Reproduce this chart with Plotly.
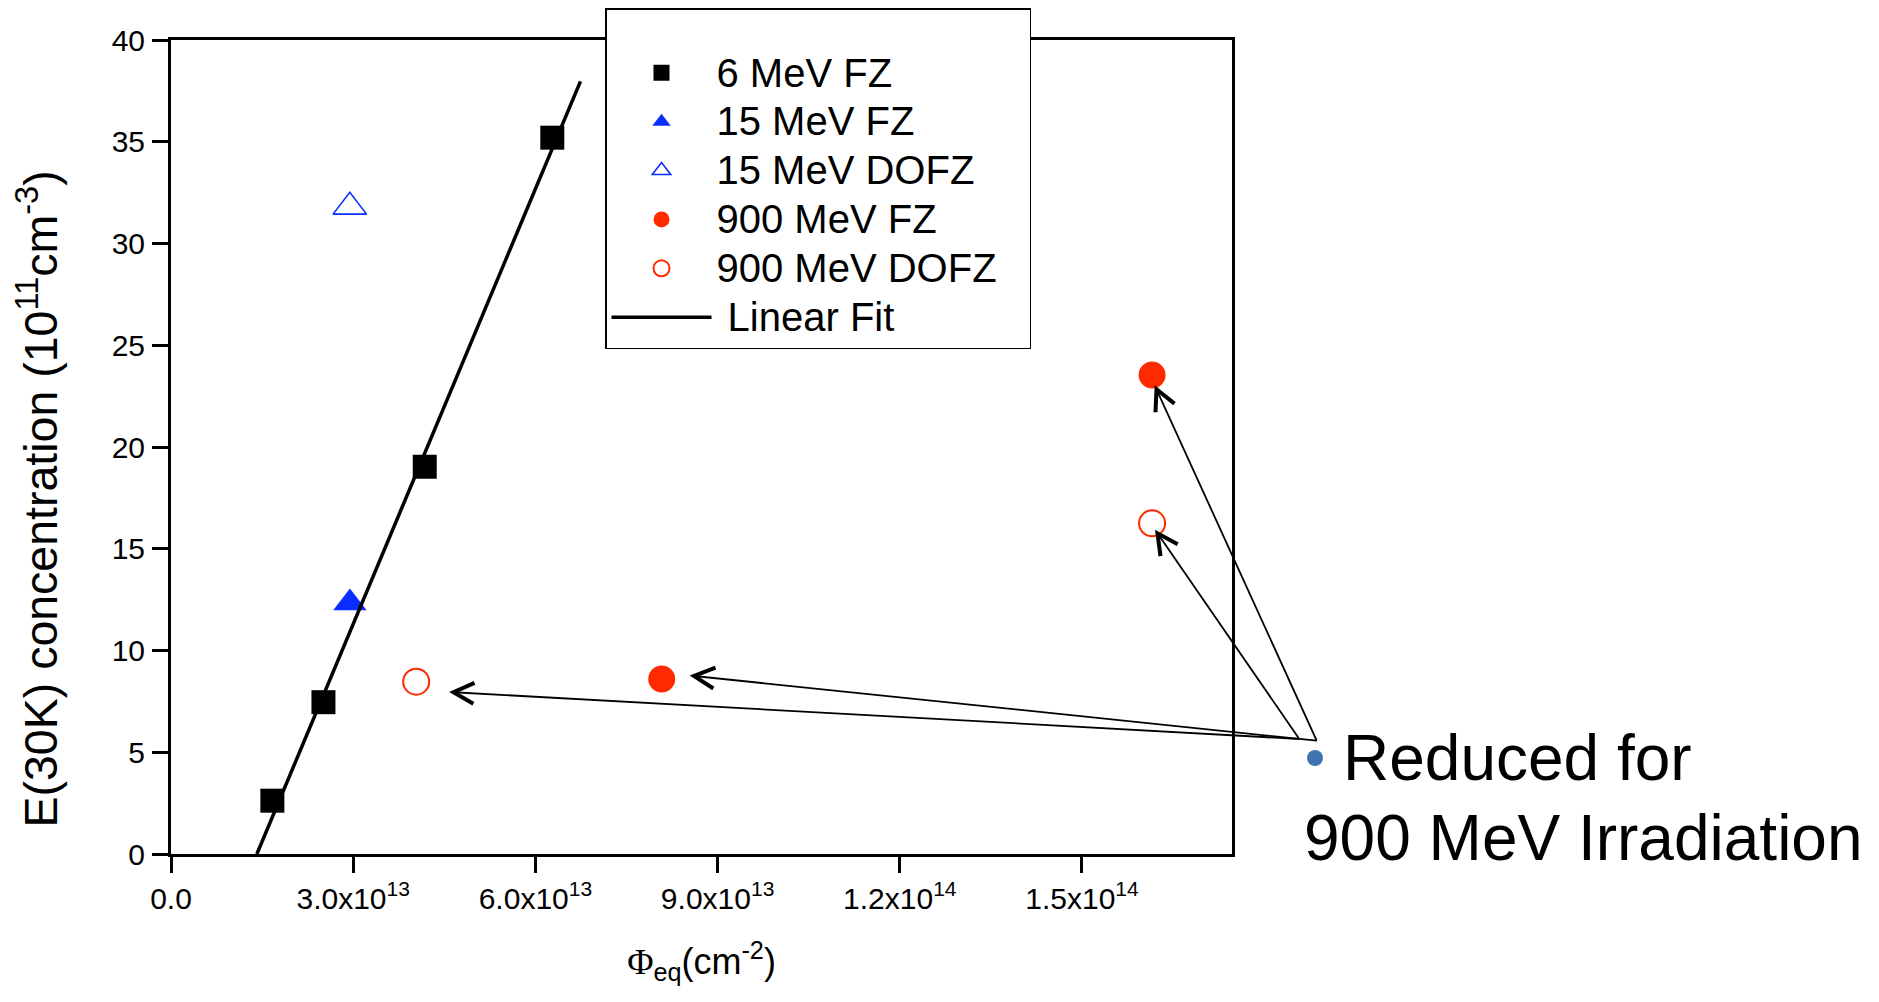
import math
import plotly.graph_objects as go

# ---------------- data ----------------
fz6_x = [1.669e13, 2.51e13, 4.178e13, 6.278e13]
fz6_y = [2.62, 7.46, 19.03, 35.2]

fz15_x = [2.946e13]
fz15_y = [12.33]

dofz15_x = [2.944e13]
dofz15_y = [31.8]

fz900_x = [8.08e13, 1.6154e14]
fz900_y = [8.6, 23.54]

dofz900_x = [4.037e13, 1.6154e14]
dofz900_y = [8.47, 16.25]

fit_slope = 7.127e-13
fit_intercept = -10.08
fit_x = [1.414e13, 6.742e13]
fit_y = [fit_intercept + fit_slope * v for v in fit_x]

x_tickvals = [0, 3.0e13, 6.0e13, 9.0e13, 1.2e14, 1.5e14]
x_ticktext = ["0.0", "3.0x10<sup>13</sup>", "6.0x10<sup>13</sup>", "9.0x10<sup>13</sup>",
              "1.2x10<sup>14</sup>", "1.5x10<sup>14</sup>"]
y_tickvals = [0, 5, 10, 15, 20, 25, 30, 35, 40]

X_MAX = 1.747e14
Y_MAX = 40

# ---------------- layout geometry ----------------
FIG_W, FIG_H = 1879, 1002
L, T, R, B = 171, 40, 647, 148
W = FIG_W - L - R
H = FIG_H - T - B

FONT = "Liberation Sans, Arial, sans-serif"
RED = "#FF2A00"
BLUE = "#0A2EFF"


def to_px(x, y):
    return L + x / X_MAX * W, T + (1 - y / Y_MAX) * H


def px_to_paper(px, py):
    return (px - L) / W, (T + H - py) / H


def lab(s):
    return '<span style="font-size:40px">' + s + '</span>'


fig = go.Figure()
fig.add_trace(go.Scatter(x=fz6_x, y=fz6_y, mode="markers", name=lab("6 MeV FZ"),
                         marker=dict(symbol="square", size=24, color="black")))
fig.add_trace(go.Scatter(x=fz15_x, y=fz15_y, mode="markers", name=lab("15 MeV FZ"),
                         marker=dict(symbol="triangle-up", size=29, color=BLUE)))
fig.add_trace(go.Scatter(x=dofz15_x, y=dofz15_y, mode="markers", name=lab("15 MeV DOFZ"),
                         marker=dict(symbol="triangle-up-open", size=29, color=BLUE,
                                     line=dict(width=1.6, color=BLUE))))
fig.add_trace(go.Scatter(x=fz900_x, y=fz900_y, mode="markers", name=lab("900 MeV FZ"),
                         marker=dict(symbol="circle", size=27, color=RED)))
fig.add_trace(go.Scatter(x=dofz900_x, y=dofz900_y, mode="markers", name=lab("900 MeV DOFZ"),
                         marker=dict(symbol="circle-open", size=26, color=RED,
                                     line=dict(width=2, color=RED))))
fig.add_trace(go.Scatter(x=fit_x, y=fit_y, mode="lines", name=lab("\u00a0Linear Fit"),
                         line=dict(color="black", width=3.5)))

# ---------------- annotation arrows ----------------
tail_A = (1299.3, 739.0)
tail_B = (1316.7, 740.7)
arrows = [
    # (x, y, tip offset px, tail)
    (dofz900_x[0], dofz900_y[0], (37.3, 10.6), tail_A),
    (fz900_x[0], fz900_y[0], (32.3, -3.0), tail_B),
    (fz900_x[1], fz900_y[1], (4.4, 14.3), tail_B),
    (dofz900_x[1], dofz900_y[1], (5.4, 10.0), tail_A),
]
shapes = []
ARM_LEN = 23
ARM_ANG = math.radians(27)
for (x, y, off, tail) in arrows:
    cx, cy = to_px(x, y)
    tx, ty = cx + off[0], cy + off[1]
    p0 = px_to_paper(tx, ty)
    p1 = px_to_paper(*tail)
    shapes.append(dict(type="line", xref="paper", yref="paper",
                       x0=p1[0], y0=p1[1], x1=p0[0], y1=p0[1],
                       line=dict(color="black", width=1.8)))
    ang = math.atan2(tail[1] - ty, tail[0] - tx)
    a1 = (tx + ARM_LEN * math.cos(ang - ARM_ANG), ty + ARM_LEN * math.sin(ang - ARM_ANG))
    a2 = (tx + ARM_LEN * math.cos(ang + ARM_ANG), ty + ARM_LEN * math.sin(ang + ARM_ANG))
    q1, q0, q2 = px_to_paper(*a1), p0, px_to_paper(*a2)
    shapes.append(dict(type="path", xref="paper", yref="paper",
                       path=f"M{q1[0]},{q1[1]} L{q0[0]},{q0[1]} L{q2[0]},{q2[1]}",
                       line=dict(color="black", width=4)))

# blue bullet
bx, by, br = 1315, 758, 8
c0 = px_to_paper(bx - br, by + br)
c1 = px_to_paper(bx + br, by - br)
shapes.append(dict(type="circle", xref="paper", yref="paper",
                   x0=c0[0], y0=c0[1], x1=c1[0], y1=c1[1],
                   fillcolor="#3E74B0", line=dict(width=0)))

annotations = []
a1x, a1y = px_to_paper(1341, 758.4)
a2x, a2y = px_to_paper(1302, 837.5)
annotations.append(dict(text="Reduced for", xref="paper", yref="paper", x=a1x, y=a1y,
                        xanchor="left", yanchor="middle", showarrow=False,
                        font=dict(size=64, family=FONT, color="black")))
annotations.append(dict(text="900 MeV Irradiation", xref="paper", yref="paper", x=a2x, y=a2y,
                        xanchor="left", yanchor="middle", showarrow=False,
                        font=dict(size=64, family=FONT, color="black")))
# y-axis title (placed lower than the axis centre, as in the original)
ytx, yty = px_to_paper(37.5, 499)
annotations.append(dict(text="E(30K) concentration (10<sup>11</sup>cm<sup>-3</sup>)",
                        xref="paper", yref="paper", x=ytx, y=yty, textangle=-90,
                        xanchor="center", yanchor="middle", showarrow=False,
                        font=dict(size=46.5, family=FONT, color="black")))

lx, ly = px_to_paper(605, 8)

fig.update_layout(
    width=FIG_W, height=FIG_H,
    margin=dict(l=L, r=R, t=T, b=B, autoexpand=False),
    paper_bgcolor="white", plot_bgcolor="white",
    font=dict(family=FONT, color="black"),
    hovermode=False,
    showlegend=True,
    legend=dict(x=lx, y=ly, xanchor="left", yanchor="top",
                bgcolor="white", bordercolor="black", borderwidth=1.5,
                font=dict(size=35.3, family=FONT, color="black"),
                itemwidth=100,
                title=dict(text="." * 58, font=dict(size=26, color="white"))),
    shapes=shapes,
    annotations=annotations,
)

fig.update_xaxes(range=[0, X_MAX], tickvals=x_tickvals, ticktext=x_ticktext,
                 showline=True, linewidth=3, linecolor="black", mirror=True,
                 ticks="outside", ticklen=16, tickwidth=3, tickcolor="black",
                 showgrid=False, zeroline=False, automargin=False,
                 tickfont=dict(size=30, family=FONT),
                 title=dict(text='<span style="font-family:Liberation Serif">Φ</span><sub>eq</sub>(cm<sup>-2</sup>)',
                            font=dict(size=36, family=FONT), standoff=35))
fig.update_yaxes(range=[0, Y_MAX], tickvals=y_tickvals,
                 showline=True, linewidth=3, linecolor="black", mirror=True,
                 ticks="outside", ticklen=16, tickwidth=3, tickcolor="black",
                 showgrid=False, zeroline=False, automargin=False,
                 tickfont=dict(size=30, family=FONT), ticklabelstandoff=1)

fig.write_html("out.html", config={"displayModeBar": False},
               post_script="document.body.style.margin='0px';document.body.style.overflow='hidden';")
